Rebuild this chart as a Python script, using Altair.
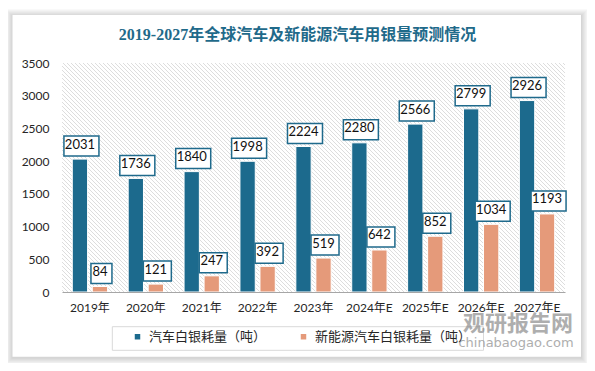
import altair as alt
import pandas as pd

years = ["2019年", "2020年", "2021年", "2022年", "2023年", "2024年E", "2025年E", "2026年E", "2027年E"]
auto_silver = [2031, 1736, 1840, 1998, 2224, 2280, 2566, 2799, 2926]
nev_silver = [84, 121, 247, 392, 519, 642, 852, 1034, 1193]
series = ["汽车白银耗量（吨）", "新能源汽车白银耗量（吨）"]
colors = ["#1C6A8D", "#E59A7A"]
title_text = "2019-2027年全球汽车及新能源汽车用银量预测情况"

W, H = 503, 229

rows = []
for y, a, n in zip(years, auto_silver, nev_silver):
    rows.append({"year": y, "series": series[0], "value": a})
    rows.append({"year": y, "series": series[1], "value": n})
df = pd.DataFrame(rows)
one = pd.DataFrame({"a": [0]})

FONT = "Lato, Noto Sans CJK SC"
CJK = "Noto Sans CJK SC"

xscale = alt.Scale(domain=years, paddingInner=0.368, paddingOuter=0.184)
yscale = alt.Scale(domain=[0, 3500], nice=False)
oscale = alt.Scale(domain=series, paddingInner=0.235, paddingOuter=0)

xaxis = alt.Axis(labelAngle=0, ticks=False, domainColor="#A6A6A6", domainWidth=1.2, title=None,
                 labelPadding=10, labelFontSize=12, labelFont=FONT, labelColor="#262626", zindex=2)
yaxis = alt.Axis(values=list(range(0, 3501, 500)), format="d", domain=False, ticks=False, grid=False,
                 title=None, labelPadding=13, labelFontSize=12, labelFont=FONT, labelColor="#262626",
                 zindex=2)

# ---- decoration: card with soft shadow
shadow_layers = []
for i in range(1, 8):
    shadow_layers.append(
        alt.Chart(one).mark_rect(fill="#000", opacity=0.022, clip=False).encode(
            x=alt.value(-49.5 - i), x2=alt.value(519 + i),
            y=alt.value(-48 - i + 1), y2=alt.value(293.7 + i + 1)))
card = alt.Chart(one).mark_rect(fill="white", clip=False).encode(
    x=alt.value(-49.5), x2=alt.value(519), y=alt.value(-48), y2=alt.value(293.7))

title = alt.Chart(one).mark_text(text=title_text, font="Liberation Serif, Noto Sans CJK SC",
                                 fontSize=16, fontWeight="bold", color="#1F6A8A",
                                 baseline="middle", clip=False).encode(
    x=alt.value(235.5), y=alt.value(-28))

# ---- hatched plot background
hatch = alt.Chart(alt.sequence(-W, W + 1, 4, as_="k")).transform_calculate(
    k2="datum.k + %d" % H, ytop="%d" % H, ybot="0"
).mark_rule(color="#D4D4D4", strokeWidth=0.8, clip=True).encode(
    x=alt.X("k:Q", scale=alt.Scale(domain=[0, W], nice=False, zero=False), axis=None),
    x2="k2:Q",
    y=alt.Y("ytop:Q", scale=alt.Scale(domain=[0, H], nice=False), axis=None),
    y2="ybot:Q",
)

base = alt.Chart(df)
xe = alt.X("year:N", scale=xscale, sort=years, axis=xaxis)
oe = alt.XOffset("series:N", scale=oscale, sort=series)
ye = alt.Y("value:Q", scale=yscale, axis=yaxis)

bars = base.mark_bar(stroke="white", strokeWidth=1).encode(
    x=xe, xOffset=oe, y=ye,
    color=alt.Color("series:N", scale=alt.Scale(domain=series, range=colors), sort=series,
                    legend=alt.Legend(title=None, orient="none", legendX=69, legendY=267,
                                      direction="horizontal", symbolType="square", symbolSize=30,
                                      symbolStrokeWidth=0, labelFontSize=13, labelFont=CJK,
                                      labelColor="#262626", columnPadding=30, labelOffset=5,
                                      labelLimit=300, padding=0)),
)


def box_path(hw, dx=0.0, dy=0.0):
    return "M%.3f,%.3fH%.3fV%.3fH%.3fZ" % (-hw + dx, -1 + dy, hw + dx, 1 + dy, -hw + dx)


widths = [1.05, 1.4, 1.75]
lab_base = base.transform_calculate(nd="'n' + length(toString(datum.value))")
ndom = ["n2", "n3", "n4"]

box_shadow = lab_base.mark_point(filled=True, fill="#000", opacity=0.16, strokeWidth=0,
                                 size=400, yOffset=-14.5).encode(
    x=xe, xOffset=oe, y=ye,
    shape=alt.Shape("nd:N", scale=alt.Scale(domain=ndom,
                                            range=[box_path(w, 0.15, 0.15) for w in widths]),
                    legend=None),
)
boxes = lab_base.mark_point(filled=True, fill="white", stroke="#1F6A8C", strokeWidth=1.5,
                            opacity=1, size=400, yOffset=-14.5).encode(
    x=xe, xOffset=oe, y=ye,
    shape=alt.Shape("nd:N", scale=alt.Scale(domain=ndom,
                                            range=[box_path(w) for w in widths]),
                    legend=None),
)
texts = base.mark_text(dy=-14.5, fontSize=13, font=FONT, color="#111111", baseline="middle").encode(
    x=xe, xOffset=oe, y=ye, text="value:Q")

legend_box = alt.Chart(one).mark_rect(fill=None, stroke="#D9D9D9", strokeWidth=1, clip=False).encode(
    x=alt.value(50.3), x2=alt.value(421.5), y=alt.value(263.7), y2=alt.value(287.3))

wm1 = alt.Chart(one).mark_text(text="观研报告网", font=CJK, fontSize=22, fontWeight="bold",
                               color="#8C8C8C", opacity=0.7, clip=False).encode(
    x=alt.value(456), y=alt.value(261))
wm2 = alt.Chart(one).mark_text(text="chinabaogao.com", font="DejaVu Sans", fontSize=13,
                               color="#8C8C8C", opacity=0.7, clip=False).encode(
    x=alt.value(454), y=alt.value(280))

main = alt.layer(bars, box_shadow, boxes, texts)

chart = alt.layer(*shadow_layers, card, title, hatch, main, legend_box, wm1, wm2).resolve_scale(
    x="independent", y="independent"
).properties(
    width=W, height=H,
    padding={"left": 54, "top": 55, "right": 22, "bottom": 71},
    autosize=alt.AutoSizeParams(type="none"),
    background="white",
).configure_view(stroke=None)

chart.save("out.html", embed_options={"renderer": "svg", "actions": False})
